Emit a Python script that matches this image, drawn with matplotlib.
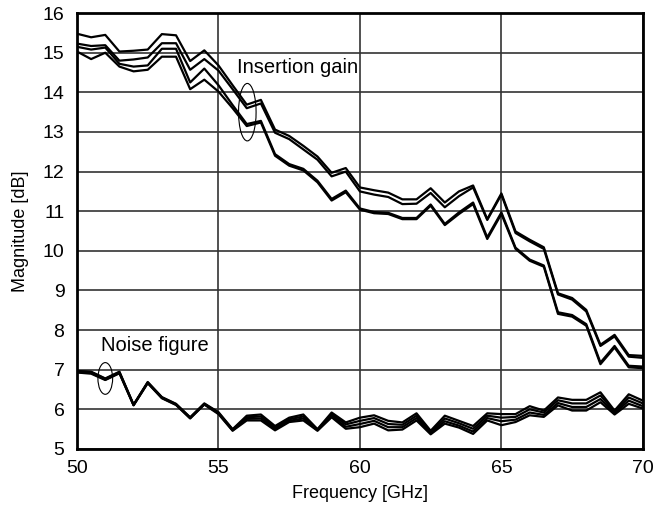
import matplotlib.pyplot as plt
import numpy as np
from matplotlib.patches import Ellipse

plt.rcParams['font.family'] = ['Liberation Sans', 'DejaVu Sans']

freq = np.linspace(50, 70, 41)

# insertion gain traces [dB]
gain_a = [15.48, 15.39, 15.45, 15.03, 15.05, 15.08, 15.47, 15.44, 14.79, 15.06,
          14.68, 14.18, 13.69, 13.81, 13.06, 12.90, 12.65, 12.38, 11.97, 12.09,
          11.60, 11.53, 11.47, 11.30, 11.30, 11.58, 11.22, 11.50, 11.65, 10.80,
          11.45, 10.49, 10.28, 10.09, 8.93, 8.81, 8.51, 7.63, 7.88, 7.37, 7.35]
gain_b = [15.23, 15.17, 15.19, 14.80, 14.83, 14.88, 15.24, 15.24, 14.57, 14.84,
          14.55, 14.08, 13.60, 13.72, 12.98, 12.82, 12.56, 12.30, 11.88, 12.00,
          11.50, 11.42, 11.36, 11.18, 11.19, 11.46, 11.10, 11.38, 11.60, 10.78,
          11.42, 10.45, 10.24, 10.05, 8.90, 8.77, 8.47, 7.60, 7.84, 7.33, 7.30]
gain_c = [15.15, 15.08, 15.13, 14.72, 14.65, 14.68, 15.10, 15.10, 14.25, 14.60,
          14.18, 13.68, 13.20, 13.28, 12.44, 12.19, 12.07, 11.77, 11.31, 11.52,
          11.07, 10.98, 10.96, 10.83, 10.83, 11.17, 10.68, 10.97, 11.22, 10.34,
          10.97, 10.08, 9.78, 9.63, 8.45, 8.38, 8.15, 7.18, 7.60, 7.10, 7.08]
gain_d = [15.03, 14.84, 15.00, 14.65, 14.53, 14.57, 14.90, 14.90, 14.08, 14.32,
          14.02, 13.60, 13.15, 13.24, 12.40, 12.15, 12.03, 11.73, 11.27, 11.48,
          11.04, 10.95, 10.93, 10.80, 10.80, 11.14, 10.65, 10.93, 11.18, 10.30,
          10.93, 10.05, 9.75, 9.60, 8.41, 8.34, 8.11, 7.14, 7.56, 7.06, 7.04]

# noise figure traces [dB]
nf_a = [6.97, 6.95, 6.78, 6.95, 6.12, 6.69, 6.31, 6.14, 5.80, 6.15,
        5.93, 5.50, 5.84, 5.87, 5.58, 5.79, 5.87, 5.50, 5.92, 5.67,
        5.79, 5.85, 5.71, 5.67, 5.90, 5.46, 5.84, 5.71, 5.58, 5.90,
        5.88, 5.88, 6.08, 5.97, 6.30, 6.24, 6.24, 6.43, 5.97, 6.38, 6.22]
nf_b = [6.96, 6.94, 6.77, 6.94, 6.11, 6.68, 6.30, 6.13, 5.79, 6.14,
        5.91, 5.49, 5.80, 5.82, 5.54, 5.75, 5.82, 5.49, 5.88, 5.62,
        5.71, 5.78, 5.63, 5.61, 5.84, 5.43, 5.77, 5.65, 5.51, 5.84,
        5.79, 5.81, 6.00, 5.92, 6.23, 6.15, 6.15, 6.35, 5.94, 6.30, 6.15]
nf_c = [6.94, 6.92, 6.75, 6.92, 6.11, 6.67, 6.29, 6.12, 5.78, 6.13,
        5.90, 5.47, 5.76, 5.77, 5.50, 5.71, 5.77, 5.47, 5.84, 5.56,
        5.63, 5.71, 5.55, 5.55, 5.78, 5.40, 5.70, 5.59, 5.44, 5.78,
        5.70, 5.74, 5.92, 5.86, 6.16, 6.06, 6.06, 6.26, 5.90, 6.22, 6.08]
nf_d = [6.93, 6.90, 6.74, 6.91, 6.10, 6.66, 6.28, 6.11, 5.77, 6.12,
        5.88, 5.46, 5.72, 5.72, 5.47, 5.68, 5.72, 5.46, 5.80, 5.51,
        5.55, 5.64, 5.47, 5.49, 5.72, 5.37, 5.64, 5.54, 5.38, 5.72,
        5.60, 5.68, 5.85, 5.81, 6.10, 5.97, 5.97, 6.18, 5.87, 6.14, 6.02]

fig = plt.figure(figsize=(6.58, 5.14), dpi=100)
ax = fig.add_axes([0.117, 0.1265, 0.86, 0.848])

for s in [gain_a, gain_b, gain_c, gain_d, nf_a, nf_b, nf_c, nf_d]:
    ax.plot(freq, s, color='black', lw=1.6, zorder=3)

ax.set_xlim(50, 70)
ax.set_ylim(5, 16)
ax.set_xticks([50, 55, 60, 65, 70])
ax.set_yticks(range(5, 17))
ax.grid(True, color='#333333', lw=1.2)
ax.tick_params(length=0, labelsize=14)
ax.tick_params(axis='y', pad=9)
ax.tick_params(axis='x', pad=8)
for sp in ax.spines.values():
    sp.set_linewidth(2)
ax.set_xlabel('Frequency [GHz]', fontsize=13, labelpad=6)
ax.set_ylabel('Magnitude [dB]', fontsize=13, labelpad=10)

ax.add_patch(Ellipse((56.02, 13.5), 0.62, 1.45, fill=False, lw=0.8, color='black', zorder=4))
ax.add_patch(Ellipse((51.0, 6.78), 0.52, 0.8, fill=False, lw=0.8, color='black', zorder=4))
ax.text(55.65, 14.62, 'Insertion gain', fontsize=14.5, va='center', ha='left')
ax.text(50.85, 7.6, 'Noise figure', fontsize=14.5, va='center', ha='left')

fig.savefig('out.png')
